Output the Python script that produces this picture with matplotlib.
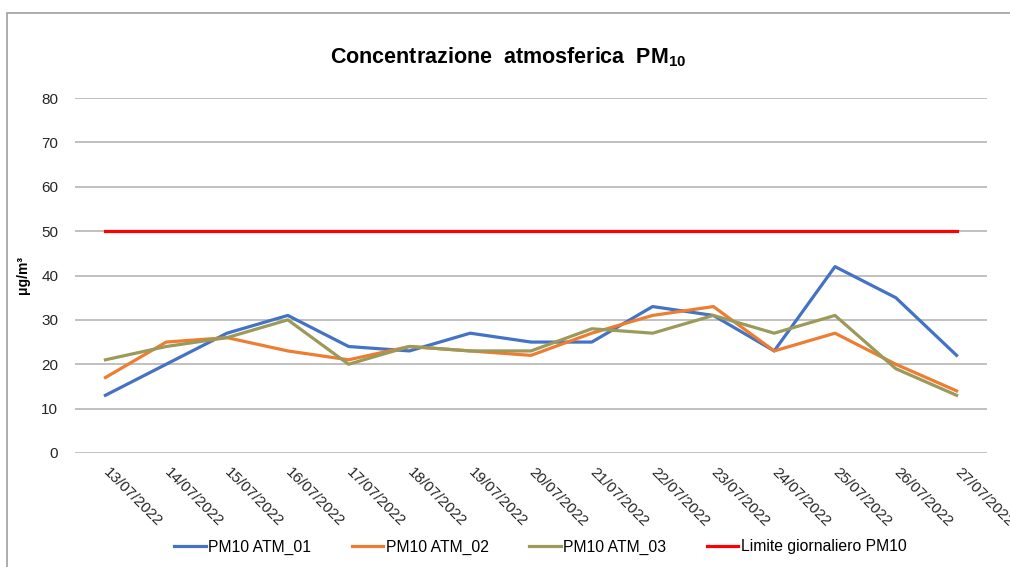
import matplotlib
matplotlib.use("Agg")
import matplotlib.pyplot as plt
import matplotlib.transforms as mtransforms
from matplotlib.patches import Rectangle

plt.rcParams.update({
    "font.family": ["Liberation Sans", "DejaVu Sans"],
    "mathtext.fontset": "custom",
    "mathtext.rm": "Liberation Sans",
    "mathtext.bf": "Liberation Sans:bold",
})

dates = ["13/07/2022", "14/07/2022", "15/07/2022", "16/07/2022", "17/07/2022",
         "18/07/2022", "19/07/2022", "20/07/2022", "21/07/2022", "22/07/2022",
         "23/07/2022", "24/07/2022", "25/07/2022", "26/07/2022", "27/07/2022"]
atm_01 = [13, 20, 27, 31, 24, 23, 27, 25, 25, 33, 31, 23, 42, 35, 22]
atm_02 = [17, 25, 26, 23, 21, 24, 23, 22, 27, 31, 33, 23, 27, 20, 14]
atm_03 = [21, 24, 26, 30, 20, 24, 23, 23, 28, 27, 31, 27, 31, 19, 13]
limite = [50] * len(dates)

fig = plt.figure(figsize=(10.1, 5.67), dpi=100)
ax = fig.add_axes([75 / 1010, 114 / 567, 912 / 1010, 355 / 567])

x = list(range(len(dates)))
ax.plot(x, atm_01, color="#4472C4", lw=2.3, label="PM10 ATM_01")
ax.plot(x, atm_02, color="#ED7D31", lw=2.3, label="PM10 ATM_02")
ax.plot(x, atm_03, color="#9C9A5A", lw=2.3, label="PM10 ATM_03")
ax.plot(x, limite, color="#FF0000", lw=2.3, label="Limite giornaliero PM10")

ax.set_xlim(-0.5, len(dates) - 0.5)
ax.set_ylim(0, 80)
ax.set_yticks(range(0, 81, 10))
ax.grid(axis="y", color="#AFAFAF", lw=1.1)
ax.set_axisbelow(True)
for s in ax.spines.values():
    s.set_visible(False)
ax.tick_params(length=0, labelsize=11, colors="#262626")
ax.tick_params(axis="y", pad=12)
ax.set_xticks(x)
ax.set_xticklabels(dates, rotation=-45, ha="left", va="top", rotation_mode="anchor")
ax.tick_params(axis="x", pad=9)
shift = mtransforms.ScaledTranslation(5 / 100, 0, fig.dpi_scale_trans)
for lab in ax.get_xticklabels():
    lab.set_transform(lab.get_transform() + shift)

ax.set_ylabel("μg/m³", fontsize=10, fontweight="bold", labelpad=8)

fig.text(0.503, 1 - 57 / 567, r"Concentrazione  atmosferica  $\mathbf{PM}_{\mathbf{10}}$",
         ha="center", va="center", fontsize=15.5, fontweight="bold")

fig.legend(loc="center", bbox_to_anchor=(0.535, 1 - 547 / 567), ncol=4, frameon=False,
           fontsize=11.3, handlelength=2.0, handletextpad=0.15, columnspacing=2.6)

fig.patches.append(Rectangle((7 / 1010, -0.1), 1.2, 1.1 - 12.5 / 567, transform=fig.transFigure,
                             fill=False, edgecolor="#A0A0A0", lw=1.2))

fig.savefig("out.png", dpi=100)
